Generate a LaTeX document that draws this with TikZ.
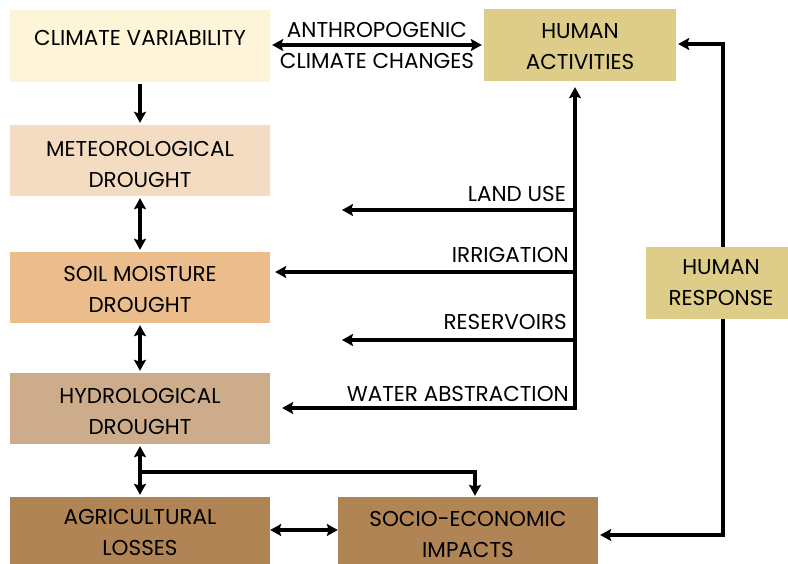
\documentclass[tikz,border=0pt]{standalone}
\usepackage{fontspec}
\setmainfont{Poppins}
\usetikzlibrary{arrows.meta}
\definecolor{cvc}{HTML}{FEF5D8}
\definecolor{mdc}{HTML}{F4DCC3}
\definecolor{smc}{HTML}{EBBC8C}
\definecolor{hdc}{HTML}{CCAC8B}
\definecolor{alc}{HTML}{B08454}
\definecolor{hac}{HTML}{DDCD88}
\newcommand\myupstrut[1]{\rule{0pt}{#1}}
\begin{document}
\begin{tikzpicture}[x=1pt,y=-1pt,
  font=\fontsize{21.5}{31}\selectfont,
  box/.style={rectangle, inner sep=0pt, align=center, minimum width=260pt, minimum height=72pt},
  conn/.style={line width=3.2pt, -{Stealth[length=11pt,width=12pt,inset=2pt]}},
  dconn/.style={line width=3.2pt, {Stealth[length=11pt,width=12pt,inset=2pt]}-{Stealth[length=11pt,width=12pt,inset=2pt]}},
  lbl/.style={inner sep=0pt, anchor=base east}]
\clip (0,0) rectangle (788,564);
\fill[white] (0,0) rectangle (788,564);
% boxes
\node[box, fill=cvc] (cv) at (140,46) {\myupstrut{30pt}CLIMATE VARIABILITY\\\mbox{}};
\node[box, fill=mdc, minimum height=71pt] (md) at (140,160.5) {\myupstrut{23pt}METEOROLOGICAL\\DROUGHT};
\node[box, fill=smc, minimum height=71pt] (sm) at (140,287.5) {\myupstrut{19pt}SOIL MOISTURE\\DROUGHT};
\node[box, fill=hdc, minimum height=71pt] (hd) at (140,408.5) {\myupstrut{22pt}HYDROLOGICAL\\DROUGHT};
\node[box, fill=alc, minimum height=70pt] (al) at (140,532) {AGRICULTURAL\\LOSSES};
\node[box, fill=alc, minimum height=74pt] (se) at (468,534) {SOCIO-ECONOMIC\\IMPACTS};
\node[box, fill=hac, minimum width=192pt] (ha) at (580,45) {\myupstrut{19pt}HUMAN\\ACTIVITIES};
% climate link
\node[inner sep=0pt] (anth) at (377,30) {ANTHROPOGENIC};
\node[inner sep=0pt] (ccl) at (377,61) {CLIMATE CHANGES};
\draw[dconn, shorten <=2pt, shorten >=2pt] (cv.east |- 0,45) -- (ha.west |- 0,45);
% drought chain
\draw[conn, shorten <=2pt, shorten >=2pt] (cv.south) -- (md.north);
\draw[dconn, shorten <=2pt, shorten >=2pt] (md.south) -- (sm.north);
\draw[dconn, shorten <=2pt, shorten >=2pt] (sm.south) -- (hd.north);
\draw[dconn, shorten <=2pt, shorten >=2pt] (hd.south) -- (al.north);
\coordinate (br) at (140,472);
\coordinate (bc) at (475,472);
\draw[conn, line join=miter, shorten >=1pt] (br) -- (bc) -- (bc |- se.north);
\draw[dconn] (al.east |- 0,530) -- (se.west |- 0,530);
% human activities trunk
\coordinate (tb) at (575,408);
\draw[conn, line join=miter, shorten >=6pt] (tb) -- (tb |- ha.south);
\draw[conn] (575,210) -- (342,210);
\draw[conn, shorten >=5pt] (575,272) -- (sm.east |- 0,272);
\draw[conn] (575,340) -- (342,340);
\draw[conn, line join=miter, shorten >=12pt] (577,408) -- (tb) -- (hd.east |- tb);
\node[lbl] (lu) at (566,202) {LAND USE};
\node[lbl] (ir) at (569,263) {IRRIGATION};
\node[lbl] (re) at (567,330) {RESERVOIRS};
\node[lbl] (wa) at (569,402) {WATER ABSTRACTION};
% feedback loop
\coordinate (lb) at (723,535);
\coordinate (lt) at (723,44);
\draw[dconn, line join=miter, shorten <=2pt, shorten >=2pt] (se.east |- lb) -- (lb) -- (lt) -- (ha.east |- lt);
\node[box, fill=hac, minimum width=150pt] (hr) at (721,283) {HUMAN\\RESPONSE};
\end{tikzpicture}
\end{document}
